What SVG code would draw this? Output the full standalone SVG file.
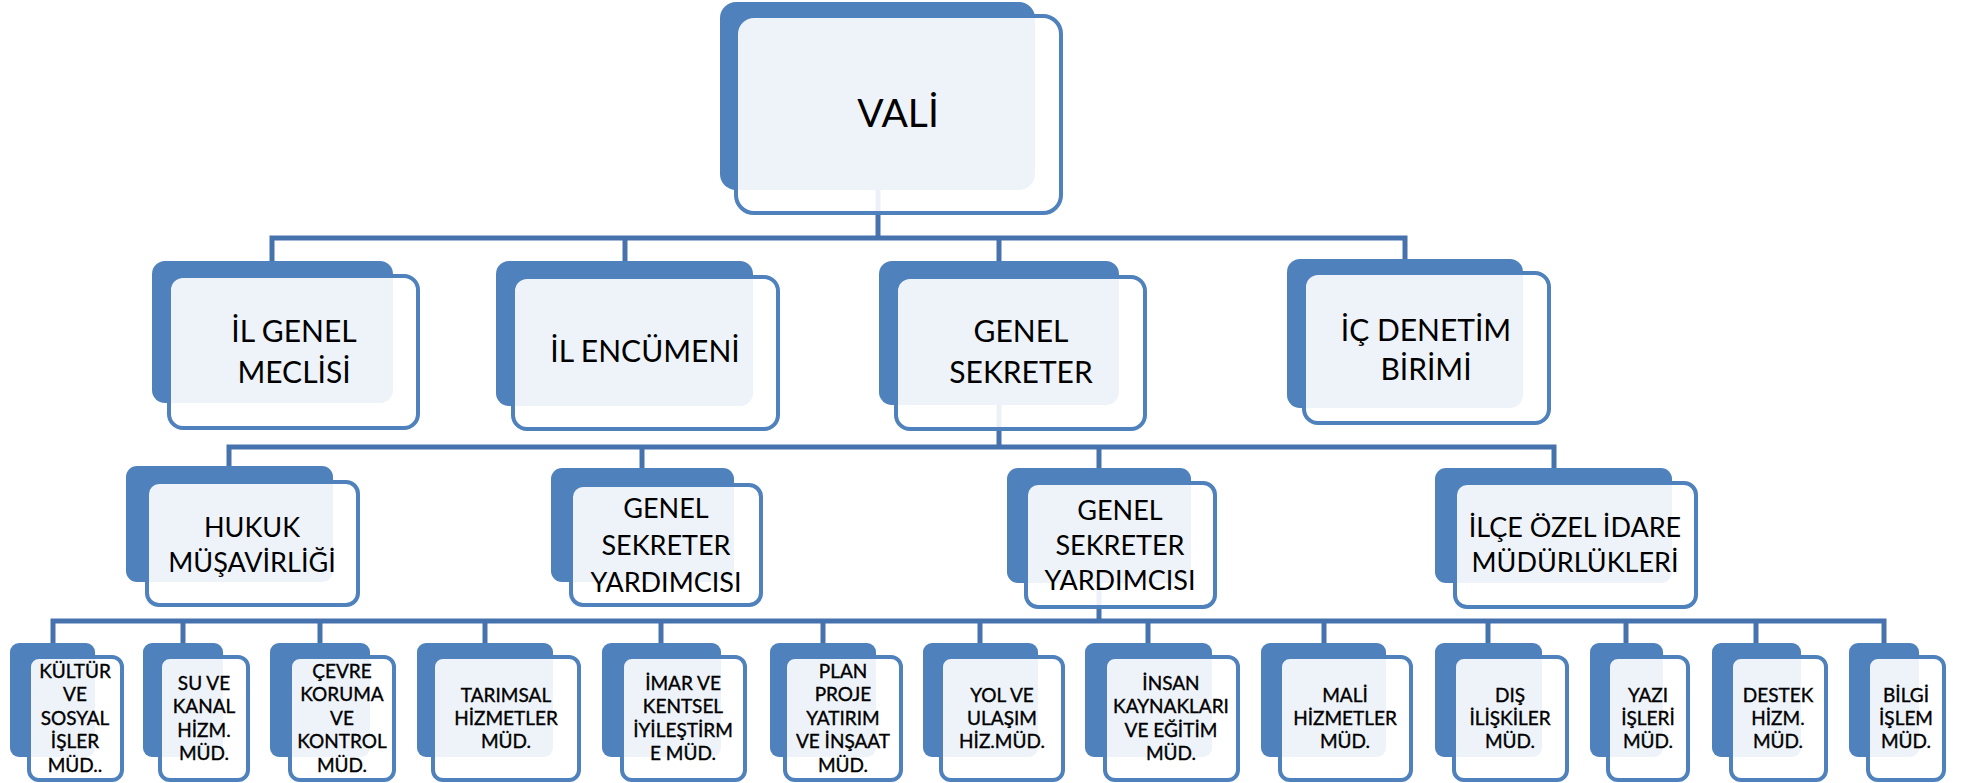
<svg xmlns="http://www.w3.org/2000/svg" width="1969" height="783" viewBox="0 0 1969 783">
<style>
.bg{fill:#ffffff}
.back{fill:#4F81BD}
.front{fill:#ffffff;fill-opacity:0.9;stroke:#4F81BD;stroke-width:4}
.conn{fill:none;stroke:#4673AD;stroke-width:5;stroke-linejoin:miter}
text{font-family:Lato,"Liberation Sans",sans-serif;fill:#000;text-anchor:middle}
.t1{font-size:39px}
.t2{font-size:30px}
.t3{font-size:27px}
.t4{font-size:19px;stroke:#000;stroke-width:0.35px}
</style>
<rect class="bg" x="0" y="0" width="1969" height="783"/>
<g id="connectors">
<path class="conn" d="M878,190 V238"/>
<path class="conn" d="M272,261 V238 H1405 V259"/>
<path class="conn" d="M625,238 V261"/>
<path class="conn" d="M999,238 V261"/>
<path class="conn" d="M999,405 V447"/>
<path class="conn" d="M229,466 V447 H1554 V468"/>
<path class="conn" d="M642,447 V468"/>
<path class="conn" d="M1099,447 V468"/>
<path class="conn" d="M1099,583 V621"/>
<path class="conn" d="M53,643 V621 H1884 V643"/>
<path class="conn" d="M183,621 V643"/>
<path class="conn" d="M320,621 V643"/>
<path class="conn" d="M485,621 V643"/>
<path class="conn" d="M661,621 V643"/>
<path class="conn" d="M823,621 V643"/>
<path class="conn" d="M980,621 V643"/>
<path class="conn" d="M1148,621 V643"/>
<path class="conn" d="M1324,621 V643"/>
<path class="conn" d="M1488,621 V643"/>
<path class="conn" d="M1626,621 V643"/>
<path class="conn" d="M1756,621 V643"/>
</g>
<g id="vali">
<rect class="back" x="720" y="2" width="315" height="188" rx="16"/>
<rect class="front" x="736" y="16" width="325" height="197" rx="18"/>
<text class="t1" x="898" y="127">VALİ</text>
</g>
<g id="il-genel-meclisi">
<rect class="back" x="152" y="261" width="241" height="142" rx="13"/>
<rect class="front" x="169" y="276" width="249" height="152" rx="14"/>
<text class="t2" x="294" y="342">İL GENEL</text>
<text class="t2" x="294" y="383">MECLİSİ</text>
</g>
<g id="il-encumeni">
<rect class="back" x="496" y="261" width="257" height="145" rx="13"/>
<rect class="front" x="513" y="277" width="265" height="152" rx="14"/>
<text class="t2" x="645" y="362">İL ENCÜMENİ</text>
</g>
<g id="genel-sekreter">
<rect class="back" x="879" y="261" width="240" height="144" rx="13"/>
<rect class="front" x="896" y="277" width="249" height="152" rx="14"/>
<text class="t2" x="1021" y="342">GENEL</text>
<text class="t2" x="1021" y="383">SEKRETER</text>
</g>
<g id="ic-denetim">
<rect class="back" x="1287" y="259" width="236" height="149" rx="13"/>
<rect class="front" x="1304" y="273" width="245" height="150" rx="14"/>
<text class="t2" x="1426" y="341">İÇ DENETİM</text>
<text class="t2" x="1426" y="380">BİRİMİ</text>
</g>
<g id="hukuk">
<rect class="back" x="126" y="466" width="207" height="116" rx="11"/>
<rect class="front" x="147" y="482" width="211" height="123" rx="12"/>
<text class="t3" x="252" y="537">HUKUK</text>
<text class="t3" x="252" y="572">MÜŞAVİRLİĞİ</text>
</g>
<g id="gsy1">
<rect class="back" x="551" y="468" width="183" height="114" rx="11"/>
<rect class="front" x="571" y="485" width="190" height="120" rx="12"/>
<text class="t3" x="666" y="518">GENEL</text>
<text class="t3" x="666" y="555">SEKRETER</text>
<text class="t3" x="666" y="592">YARDIMCISI</text>
</g>
<g id="gsy2">
<rect class="back" x="1007" y="468" width="184" height="115" rx="11"/>
<rect class="front" x="1026" y="483" width="189" height="124" rx="12"/>
<text class="t3" x="1120" y="520">GENEL</text>
<text class="t3" x="1120" y="555">SEKRETER</text>
<text class="t3" x="1120" y="590">YARDIMCISI</text>
</g>
<g id="ilce">
<rect class="back" x="1435" y="468" width="237" height="115" rx="11"/>
<rect class="front" x="1455" y="483" width="241" height="124" rx="12"/>
<text class="t3" x="1575" y="537">İLÇE ÖZEL İDARE</text>
<text class="t3" x="1575" y="572">MÜDÜRLÜKLERİ</text>
</g>
<g id="kultur">
<rect class="back" x="10" y="643" width="85" height="114" rx="9"/>
<rect class="front" x="29" y="657" width="93" height="123" rx="10"/>
<text class="t4" x="75" y="678">KÜLTÜR</text>
<text class="t4" x="75" y="701">VE</text>
<text class="t4" x="75" y="725">SOSYAL</text>
<text class="t4" x="75" y="748">İŞLER</text>
<text class="t4" x="75" y="772">MÜD..</text>
</g>
<g id="su-kanal">
<rect class="back" x="143" y="643" width="80" height="114" rx="9"/>
<rect class="front" x="160" y="657" width="88" height="123" rx="10"/>
<text class="t4" x="204" y="690">SU VE</text>
<text class="t4" x="204" y="713">KANAL</text>
<text class="t4" x="204" y="737">HİZM.</text>
<text class="t4" x="204" y="760">MÜD.</text>
</g>
<g id="cevre">
<rect class="back" x="270" y="643" width="100" height="114" rx="9"/>
<rect class="front" x="290" y="657" width="104" height="123" rx="10"/>
<text class="t4" x="342" y="678">ÇEVRE</text>
<text class="t4" x="342" y="701">KORUMA</text>
<text class="t4" x="342" y="725">VE</text>
<text class="t4" x="342" y="748">KONTROL</text>
<text class="t4" x="342" y="772">MÜD.</text>
</g>
<g id="tarimsal">
<rect class="back" x="417" y="643" width="136" height="114" rx="9"/>
<rect class="front" x="433" y="657" width="146" height="123" rx="10"/>
<text class="t4" x="506" y="702">TARIMSAL</text>
<text class="t4" x="506" y="725">HİZMETLER</text>
<text class="t4" x="506" y="748">MÜD.</text>
</g>
<g id="imar">
<rect class="back" x="602" y="643" width="119" height="114" rx="9"/>
<rect class="front" x="622" y="657" width="123" height="123" rx="10"/>
<text class="t4" x="683" y="690">İMAR VE</text>
<text class="t4" x="683" y="713">KENTSEL</text>
<text class="t4" x="683" y="737">İYİLEŞTİRM</text>
<text class="t4" x="683" y="760">E MÜD.</text>
</g>
<g id="plan-proje">
<rect class="back" x="770" y="643" width="106" height="114" rx="9"/>
<rect class="front" x="785" y="657" width="116" height="123" rx="10"/>
<text class="t4" x="843" y="678">PLAN</text>
<text class="t4" x="843" y="701">PROJE</text>
<text class="t4" x="843" y="725">YATIRIM</text>
<text class="t4" x="843" y="748">VE İNŞAAT</text>
<text class="t4" x="843" y="772">MÜD.</text>
</g>
<g id="yol">
<rect class="back" x="923" y="643" width="115" height="114" rx="9"/>
<rect class="front" x="941" y="657" width="122" height="123" rx="10"/>
<text class="t4" x="1002" y="702">YOL VE</text>
<text class="t4" x="1002" y="725">ULAŞIM</text>
<text class="t4" x="1002" y="748">HİZ.MÜD.</text>
</g>
<g id="insan">
<rect class="back" x="1085" y="643" width="127" height="114" rx="9"/>
<rect class="front" x="1105" y="657" width="133" height="123" rx="10"/>
<text class="t4" x="1171" y="690">İNSAN</text>
<text class="t4" x="1171" y="713">KAYNAKLARI</text>
<text class="t4" x="1171" y="737">VE EĞİTİM</text>
<text class="t4" x="1171" y="760">MÜD.</text>
</g>
<g id="mali">
<rect class="back" x="1261" y="643" width="125" height="114" rx="9"/>
<rect class="front" x="1280" y="657" width="131" height="123" rx="10"/>
<text class="t4" x="1345" y="702">MALİ</text>
<text class="t4" x="1345" y="725">HİZMETLER</text>
<text class="t4" x="1345" y="748">MÜD.</text>
</g>
<g id="dis">
<rect class="back" x="1435" y="643" width="107" height="114" rx="9"/>
<rect class="front" x="1454" y="657" width="113" height="123" rx="10"/>
<text class="t4" x="1510" y="702">DIŞ</text>
<text class="t4" x="1510" y="725">İLİŞKİLER</text>
<text class="t4" x="1510" y="748">MÜD.</text>
</g>
<g id="yazi">
<rect class="back" x="1590" y="643" width="73" height="114" rx="9"/>
<rect class="front" x="1608" y="657" width="80" height="123" rx="10"/>
<text class="t4" x="1648" y="702">YAZI</text>
<text class="t4" x="1648" y="725">İŞLERİ</text>
<text class="t4" x="1648" y="748">MÜD.</text>
</g>
<g id="destek">
<rect class="back" x="1712" y="643" width="89" height="114" rx="9"/>
<rect class="front" x="1731" y="657" width="95" height="123" rx="10"/>
<text class="t4" x="1778" y="702">DESTEK</text>
<text class="t4" x="1778" y="725">HİZM.</text>
<text class="t4" x="1778" y="748">MÜD.</text>
</g>
<g id="bilgi">
<rect class="back" x="1849" y="643" width="70" height="114" rx="9"/>
<rect class="front" x="1868" y="657" width="76" height="123" rx="10"/>
<text class="t4" x="1906" y="702">BİLGİ</text>
<text class="t4" x="1906" y="725">İŞLEM</text>
<text class="t4" x="1906" y="748">MÜD.</text>
</g>
</svg>
